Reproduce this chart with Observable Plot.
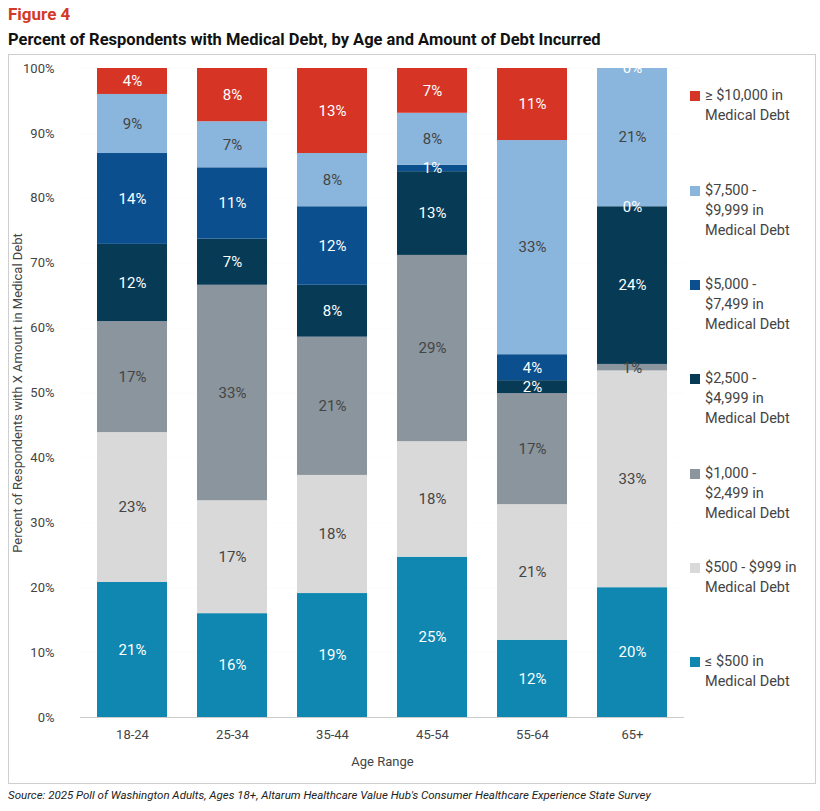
<!DOCTYPE html>
<html><head><meta charset="utf-8">
<script src="https://cdn.jsdelivr.net/npm/d3@7"></script>
<script src="https://cdn.jsdelivr.net/npm/@observablehq/plot@0.6"></script>
<style>
body{margin:0;font-family:Roboto,"Open Sans",sans-serif;background:#fff}
#wrap{position:relative;width:820px;height:811px;overflow:hidden}
#fig{position:absolute;left:8px;top:4px;font-weight:bold;color:#d33a26;font-size:17px}
#title{position:absolute;left:8px;top:30px;font-weight:bold;color:#111;font-size:16.5px}
#frame{position:absolute;left:8px;top:54px;width:806px;height:728px;border:1px solid #cfcfcf}
#chart{position:absolute;left:0;top:50px}
#legend{position:absolute;left:690px;top:86px;font-size:14.5px;color:#444;line-height:20px}
.li{position:absolute;left:0;width:125px}
.sw{position:absolute;left:0;top:5px;width:10px;height:10px}
.lt{position:absolute;left:15px;top:0;width:112px}
#src{position:absolute;left:8px;top:788px;font-size:11.5px;font-style:italic;color:#222}
</style></head><body>
<div id="wrap">
<div id="fig">Figure 4</div>
<div id="title">Percent of Respondents with Medical Debt, by Age and Amount of Debt Incurred</div>
<div id="frame"></div>
<div id="chart"></div>
<div id="legend"></div>
<div id="src">Source: 2025 Poll of Washington Adults, Ages 18+, Altarum Healthcare Value Hub's Consumer Healthcare Experience State Survey</div>
</div>
<script>
const ages = ["18-24","25-34","35-44","45-54","55-64","65+"];
const categories = ["≤ $500 in Medical Debt","$500 - $999 in Medical Debt","$1,000 - $2,499 in Medical Debt","$2,500 - $4,999 in Medical Debt","$5,000 - $7,499 in Medical Debt","$7,500 - $9,999 in Medical Debt","≥ $10,000 in Medical Debt"];
const legendLabels = ["≥ $10,000 in<br>Medical Debt","$7,500 -<br>$9,999 in<br>Medical Debt","$5,000 -<br>$7,499 in<br>Medical Debt","$2,500 -<br>$4,999 in<br>Medical Debt","$1,000 -<br>$2,499 in<br>Medical Debt","$500 - $999 in<br>Medical Debt","≤ $500 in<br>Medical Debt"];
const colors = ["#0f87b1","#d9d9d9","#8a959e","#073a55","#0b4f8e","#8ab6dd","#d63425"];
const textColors = ["#fff","#444","#444","#fff","#fff","#444","#fff"];
// values per category (rows) by age (columns)
const v500   = [20.8,16.0,19.1,24.7,11.9,20.0];
const v999   = [23.1,17.4,18.2,17.8,20.9,33.4];
const v2499  = [17.1,33.2,21.3,28.7,17.1,1.0];
const v4999  = [11.9,7.1,8.0,12.9,2.0,24.3];
const v7499  = [14.0,11.0,12.1,1.0,4.0,0.0];
const v9999  = [9.1,7.1,8.2,8.0,33.0,21.3];
const v10000 = [4.0,8.2,13.1,6.9,11.1,0.0];
const series = [v500,v999,v2499,v4999,v7499,v9999,v10000];
const data = [];
series.forEach((s,ci)=>s.forEach((v,ai)=>data.push({age:ages[ai],cat:categories[ci],ci,value:v})));

const plot = Plot.plot({
  width:700,height:730,marginTop:18,marginBottom:63,marginLeft:80,marginRight:16,
  style:{fontFamily:"Roboto,sans-serif",fontSize:"13px",color:"#444"},
  x:{domain:ages,paddingInner:0.3,paddingOuter:0.15,label:"Age Range",labelAnchor:"center",labelOffset:48,tickSize:0,tickPadding:12,labelArrow:false},
  y:{domain:[0,100],ticks:d3.range(0,101,10),tickFormat:d=>d+"%",label:"Percent of Respondents with X Amount in Medical Debt",labelAnchor:"center",labelOffset:68,tickSize:0,tickPadding:26,grid:true,labelArrow:false},
  color:{domain:categories,range:colors},
  marks:[
    Plot.ruleY([0],{stroke:"#ccc"}),
    Plot.barY(data,Plot.stackY({x:"age",y:"value",fill:"cat",order:"ci"})),
    Plot.text(data,Plot.stackY({x:"age",y:"value",order:"ci",text:d=>Math.round(d.value)+"%",fill:d=>textColors[d.ci],fontSize:15}))
  ]
});
plot.querySelectorAll("[aria-label='y-grid'] line").forEach(l=>l.setAttribute("stroke","#ddd"));
document.getElementById("chart").appendChild(plot);
const leg=document.getElementById("legend");
const tops=[0,95,189,283,378,472,566];
legendLabels.forEach((t,i)=>{
  const ci=6-i;
  leg.insertAdjacentHTML("beforeend",`<div class="li" style="top:${tops[i]}px"><div class="sw" style="background:${colors[ci]}"></div><div class="lt">${t}</div></div>`);
});
</script>
</body></html>
